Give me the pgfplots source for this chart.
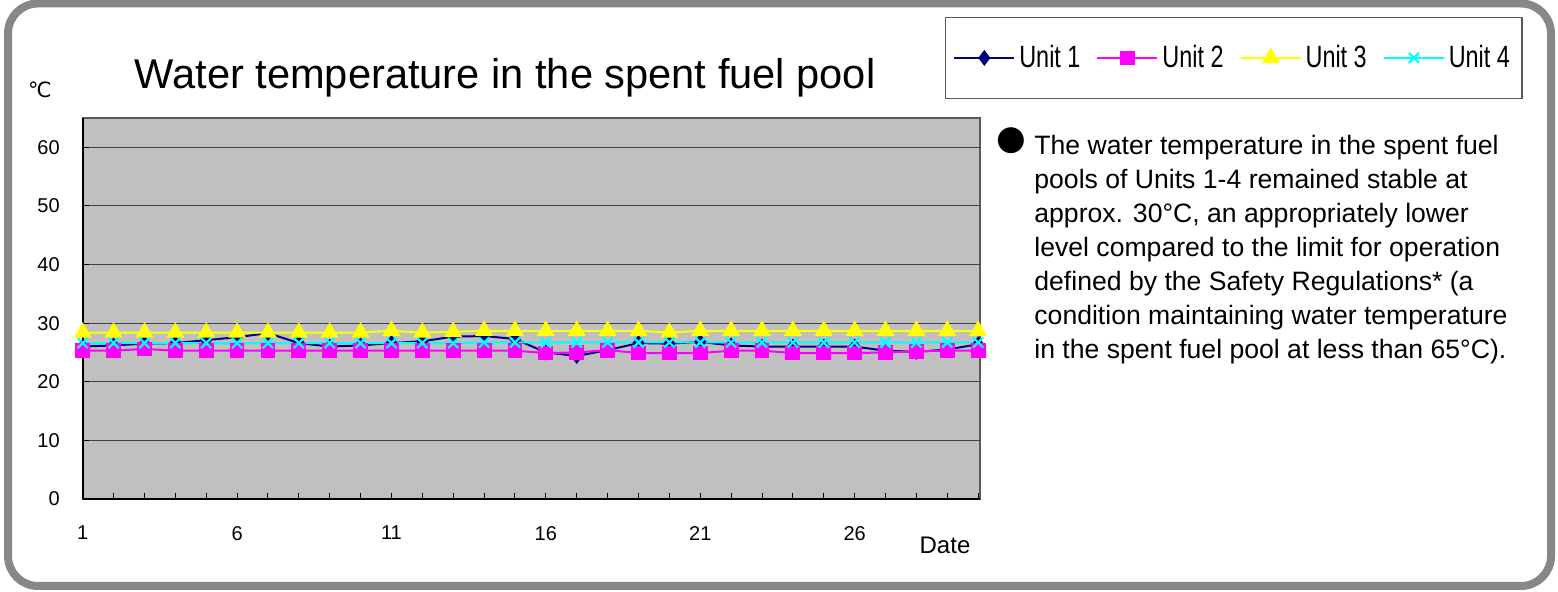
\documentclass[border=0pt]{standalone}
\usepackage{fontspec}
\setmainfont{Liberation Sans}
\newfontfamily\narrowfont[FakeStretch=0.76]{Liberation Sans}
\newfontfamily\djv{DejaVu Sans}
\usepackage{pgfplots}
\pgfplotsset{compat=1.18}
\definecolor{navyc}{RGB}{0,0,128}
\definecolor{magc}{RGB}{255,0,255}
\definecolor{yelc}{RGB}{255,255,0}
\definecolor{cyac}{RGB}{0,255,255}
\definecolor{bgc}{RGB}{192,192,192}
\definecolor{framec}{RGB}{135,135,135}
\definecolor{gridc}{RGB}{64,64,64}

\pgfplotstableread{
day u1 u2 u3 u4
1 26.0 25.3 28.4 26.6
2 26.2 25.3 28.4 26.6
3 26.5 25.6 28.4 26.6
4 26.6 25.3 28.4 26.6
5 27.1 25.3 28.4 26.6
6 27.6 25.3 28.4 26.6
7 28.3 25.3 28.4 26.6
8 26.6 25.3 28.4 26.6
9 26.0 25.3 28.4 26.6
10 26.2 25.3 28.4 26.6
11 26.6 25.3 28.7 26.6
12 26.9 25.3 28.4 26.6
13 27.7 25.3 28.5 26.6
14 27.8 25.3 28.7 26.7
15 27.3 25.3 28.7 26.7
16 25.0 24.9 28.7 26.7
17 24.4 25.0 28.7 26.7
18 25.4 25.4 28.7 26.7
19 26.6 24.9 28.7 26.7
20 26.5 24.9 28.4 26.7
21 26.8 24.9 28.7 26.7
22 26.2 25.3 28.7 26.7
23 26.0 25.3 28.7 26.7
24 26.0 24.9 28.7 26.7
25 26.0 24.9 28.7 26.7
26 26.0 24.9 28.7 26.7
27 25.3 25.0 28.7 26.7
28 25.1 25.2 28.7 26.7
29 25.5 25.3 28.7 26.7
30 26.4 25.3 28.7 26.7
}\datatable

\begin{document}
\begin{tikzpicture}
\useasboundingbox (0,0) rectangle (779pt,296pt);
\draw[line width=4pt, framec, rounded corners=15pt] (4pt,3pt) rectangle (775.5pt,294.25pt);
\begin{axis}[
  at={(41.35pt,46.5pt)}, anchor=south west,
  scale only axis, width=448.65pt, height=190.5pt,
  xmin=1, xmax=30.06, ymin=0, ymax=65,
  xtick={1,6,11,16,21,26}, minor xtick={1,...,30},
  ytick={0,10,...,60},
  ymajorgrids, major grid style={gridc, line width=0.5pt},
  axis x line*=bottom, axis y line*=left,
  axis line style={black, line width=0.8pt, -},
  axis background/.style={fill=bgc, draw=gray!70!black, line width=0.6pt},
  tick align=inside, major tick length=3pt, minor tick length=3pt,
  tick style={black, line width=0.5pt},
  /pgf/number format/assume math mode=true,
  xticklabel style={font=\fontsize{10}{12}\selectfont, yshift=-10pt},
  yticklabel style={font=\fontsize{10}{12}\selectfont, xshift=-8pt},
  legend columns=4,
  legend style={at={(0.9607,1.2659)}, anchor=north west, draw=gray!70!black, line width=0.6pt,
    fill=white, font=\narrowfont\fontsize{15.4}{18}\selectfont, inner xsep=4pt, inner ysep=12pt,
    /tikz/every even column/.append style={column sep=6pt}},
  legend image code/.code={\draw[mark repeat=2,mark phase=2] plot coordinates {(0pt,0pt) (15pt,0pt) (30pt,0pt)};},
]
\addplot[navyc, line width=1pt, mark=diamond*, mark size=3.2pt, mark options={fill=navyc, solid}] table[x=day,y=u1] {\datatable};
\addlegendentry{Unit 1}
\addplot[magc, line width=1pt, mark=square*, mark size=3.2pt, mark options={fill=magc, solid}] table[x=day,y=u2] {\datatable};
\addlegendentry{Unit 2}
\addplot[yelc, line width=1pt, mark=triangle*, mark size=4.2pt, mark options={fill=yelc, solid}] table[x=day,y=u3] {\datatable};
\addlegendentry{Unit 3}
\addplot[cyac, line width=1pt, mark=x, mark size=3.6pt, mark options={line width=1.1pt, solid}] table[x=day,y=u4] {\datatable};
\addlegendentry{Unit 4}
\end{axis}
\node[anchor=base, font=\fontsize{20.8}{24}\selectfont] at (252.5pt,251.5pt) {Water temperature in the spent fuel pool};
\node[font=\djv\fontsize{10.5}{12}\selectfont] at (20pt,251pt) {℃};
\node[font=\fontsize{12}{14}\selectfont] at (472.5pt,23.5pt) {Date};
\node[font=\djv\fontsize{17}{18}\selectfont] at (505.5pt,225.5pt) {●};
\node[anchor=north west, inner sep=0pt, align=left, font=\fontsize{13.3}{17}\selectfont] at (517pt,228.5pt)
 {The water temperature in the spent fuel\\
  pools of Units 1-4 remained stable at\\
  approx. 30°C, an appropriately lower\\
  level compared to the limit for operation\\
  defined by the Safety Regulations* (a\\
  condition maintaining water temperature\\
  in the spent fuel pool at less than 65°C).};
\end{tikzpicture}
\end{document}
